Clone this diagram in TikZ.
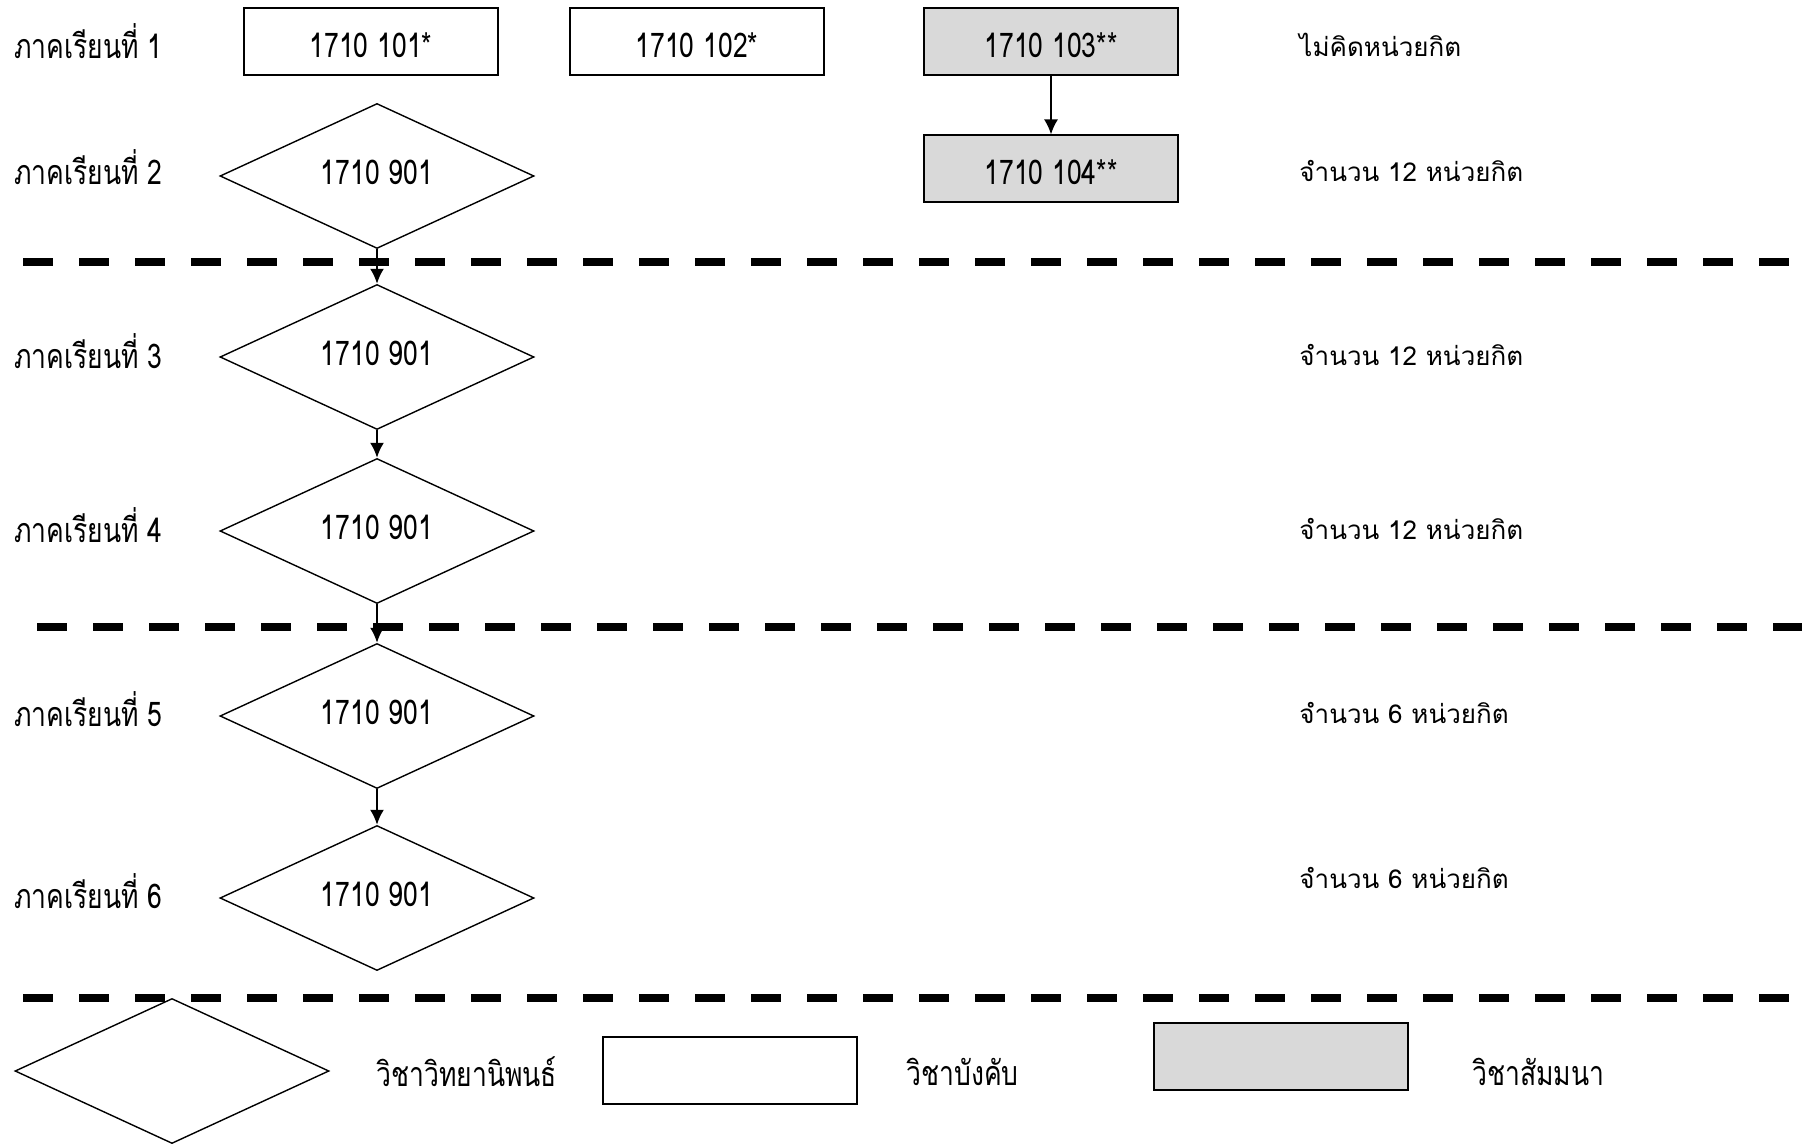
\documentclass[tikz,border=0pt]{standalone}
\usepackage{fontspec}
\setmainfont[Script=Thai]{Loma}
\usetikzlibrary{arrows.meta,shapes.geometric,positioning}
\definecolor{seminargray}{RGB}{217,217,217}
\newcommand{\slim}[1]{\scalebox{0.78}[1]{#1}}

\begin{document}
\begin{tikzpicture}[x=0.5pt,y=-0.5pt,
  every node/.style={font=\fontsize{13}{15}\selectfont},
  course/.style={draw,line width=1pt,minimum width=127pt,minimum height=33.5pt,inner sep=0pt,
    text height=16pt,text depth=0.5pt,font=\fontsize{17}{19}\selectfont},
  seminar/.style={course,fill=seminargray},
  thesis/.style={draw,diamond,line width=0.7pt,minimum width=157pt,minimum height=72.5pt,inner sep=0pt,
    text height=10pt,text depth=1.5pt,font=\fontsize{17}{19}\selectfont},
  term/.style={anchor=west,inner sep=0pt,font=\fontsize{17}{19}\selectfont},
  credit/.style={anchor=west,inner sep=0pt},
  sep/.style={line width=4pt,dash pattern=on 15pt off 13pt},
  flow/.style={-{Latex[length=7.5pt,width=7pt]},line width=1pt}]
\useasboundingbox (0,0) rectangle (1802,1144);

\draw[sep] (23,262) -- (1802,262);
\draw[sep] (37,627) -- (1802,627);
\draw[sep] (23,998) -- (1802,998);

\foreach \n/\y in {1/41,2/167,3/351,4/525,5/709,6/891}
  \node[term] (t\n) at (14,\y) {\slim{ภาคเรียนที่ \n}};

\node[course] (c101) at (371,42) {\slim{1710 101*}};
\node[course] (c102) at (697,42) {\slim{1710 102*}};
\node[seminar] (c103) at (1051,42) {\slim{1710 103**}};
\node[seminar] (c104) at (1051,169) {\slim{1710 104**}};

\node[thesis] (th2) at (377,176) {\slim{1710 901}};
\node[thesis] (th3) at (377,357) {\slim{1710 901}};
\node[thesis] (th4) at (377,531) {\slim{1710 901}};
\node[thesis] (th5) at (377,716) {\slim{1710 901}};
\node[thesis] (th6) at (377,898) {\slim{1710 901}};

\node[credit] (cr1) at (1299,45) {ไม่คิดหน่วยกิต};
\node[credit] (cr2) at (1299,171) {จำนวน 12 หน่วยกิต};
\node[credit] (cr3) at (1299,355) {จำนวน 12 หน่วยกิต};
\node[credit] (cr4) at (1299,529) {จำนวน 12 หน่วยกิต};
\node[credit] (cr5) at (1299,713) {จำนวน 6 หน่วยกิต};
\node[credit] (cr6) at (1299,878) {จำนวน 6 หน่วยกิต};

\draw[flow] (c103) -- (c104);
\draw[flow] (th2) -- (th3);
\draw[flow] (th3) -- (th4);
\draw[flow] (th4) -- (th5);
\draw[flow] (th5) -- (th6);

\node[thesis] (keythesis) at (172,1071) {};
\node[term] (keythesislbl) at (376,1072) {\slim{วิชาวิทยานิพนธ์}};
\node[course] (keycourse) at (730,1070) {};
\node[term] (keycourselbl) at (906,1072) {\slim{วิชาบังคับ}};
\node[seminar] (keyseminar) at (1281,1056) {};
\node[term] (keyseminarlbl) at (1472,1072) {\slim{วิชาสัมมนา}};
\end{tikzpicture}
\end{document}
